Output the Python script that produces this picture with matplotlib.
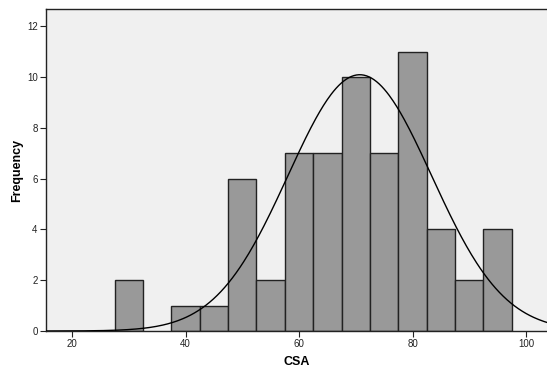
import numpy as np
import matplotlib
matplotlib.use("Agg")
import matplotlib.pyplot as plt

plt.rcParams['font.family'] = ['Liberation Sans', 'DejaVu Sans']

bin_centers = [30, 35, 40, 45, 50, 55, 60, 65, 70, 75, 80, 85, 90, 95]
counts = [2, 0, 1, 1, 6, 2, 7, 7, 10, 7, 11, 4, 2, 4]
bin_width = 5
curve_mean = 70.7
curve_sd = 12.65
n_total = sum(counts)
x_ticks = [20, 40, 60, 80, 100]
y_ticks = [0, 2, 4, 6, 8, 10, 12]

fig = plt.figure(figsize=(5.47, 3.70), dpi=100)
ax = fig.add_axes([46/547, 39/370, 1 - 46/547, (331-9)/370])
ax.set_facecolor('#f0f0f0')

for c, h in zip(bin_centers, counts):
    if h > 0:
        ax.bar(c, h, width=bin_width, color='#999999', edgecolor='#222222', linewidth=1.0, zorder=2)

xs = np.linspace(15, 104, 400)
ys = n_total * bin_width / (curve_sd * np.sqrt(2 * np.pi)) * np.exp(-0.5 * ((xs - curve_mean) / curve_sd) ** 2)
ax.plot(xs, ys, color='black', linewidth=1.0, zorder=3)

ax.set_xlim(15.4, 103.7)
ax.set_ylim(0, 12.68)
ax.set_xticks(x_ticks)
ax.set_yticks(y_ticks)
ax.tick_params(axis='both', labelsize=7, length=4, width=0.8, colors='#222222', pad=2)
ax.spines['right'].set_visible(False)
for s in ['left', 'bottom', 'top']:
    ax.spines[s].set_linewidth(1.0)
    ax.spines[s].set_color('#222222')

ax.set_xlabel('CSA', fontsize=9, fontweight='bold')
ax.set_ylabel('Frequency', fontsize=9, fontweight='bold')
ax.xaxis.set_label_coords(0.5, -0.078)
ax.yaxis.set_label_coords(-0.045, 0.5)

fig.savefig('out.png', dpi=100)
